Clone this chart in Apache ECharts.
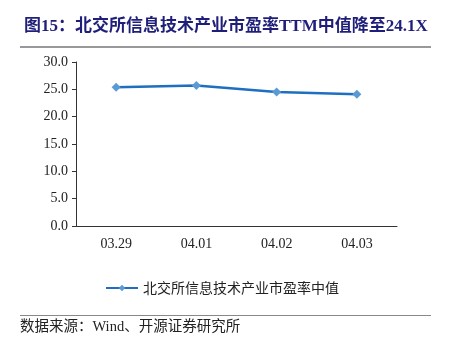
<!DOCTYPE html>
<html>
<head>
<meta charset="utf-8">
<script src="https://cdn.jsdelivr.net/npm/echarts@6/dist/echarts.min.js"></script>
<style>
  html, body { margin: 0; padding: 0; background: #fff; }
  #main { width: 449px; height: 337px; }
</style>
</head>
<body>
<div id="main"></div>
<script>
var dates = ['03.29', '04.01', '04.02', '04.03'];
var peMedian = [25.4, 25.7, 24.5, 24.1];
var seriesName = '北交所信息技术产业市盈率中值';

var myChart = echarts.init(document.getElementById('main'));

var option = {
	animation: false,
	backgroundColor: '#fff',
	title: {
		text: '图15：北交所信息技术产业市盈率TTM中值降至24.1X',
		left: 19,
		top: 13,
		textStyle: {
			color: '#1f1f7a',
			fontSize: 17,
			fontWeight: 'bold',
			fontFamily: 'Liberation Serif, Noto Sans CJK SC'
		}
	},
	graphic: [
		{ type: 'line', shape: { x1: 20, y1: 47, x2: 431, y2: 47 }, style: { stroke: '#333', lineWidth: 1 } },
		{ type: 'line', shape: { x1: 20, y1: 315.5, x2: 431, y2: 315.5 }, style: { stroke: '#888', lineWidth: 1 } },
		{
			type: 'text', left: 20, top: 320,
			style: { text: '数据来源：Wind、开源证券研究所', fill: '#222', font: '14.5px "Liberation Serif", "Noto Sans CJK SC"' }
		}
	],
	legend: {
		data: [seriesName],
		top: 276,
		left: 100,
		itemWidth: 32,
		itemHeight: 8,
		itemGap: 5,
		textStyle: { color: '#222', fontSize: 14, fontFamily: 'Noto Sans CJK SC' }
	},
	grid: { left: 76, right: 52, top: 62, bottom: 111 },
	xAxis: {
		type: 'category',
		data: dates,
		axisLine: { lineStyle: { color: '#333' } },
		axisTick: { alignWithLabel: false, lineStyle: { color: '#333' } },
		axisLabel: { color: '#222', fontSize: 14, margin: 11, fontFamily: 'Liberation Serif' }
	},
	yAxis: {
		type: 'value',
		min: 0,
		max: 30,
		interval: 5,
		axisLine: { show: true, lineStyle: { color: '#333' } },
		axisTick: { show: true, inside: false, length: 4, lineStyle: { color: '#333' } },
		splitLine: { show: false },
		axisLabel: {
			color: '#222', fontSize: 14, margin: 8, fontFamily: 'Liberation Serif',
			formatter: function (v) { return v.toFixed(1); }
		}
	},
	series: [{
		name: seriesName,
		type: 'line',
		data: peMedian,
		symbol: 'diamond',
		symbolSize: 9,
		lineStyle: { color: '#1f6fc0', width: 2.5 },
		itemStyle: { color: '#5b9bd5' }
	}]
};
myChart.setOption(option);
</script>
</body>
</html>
